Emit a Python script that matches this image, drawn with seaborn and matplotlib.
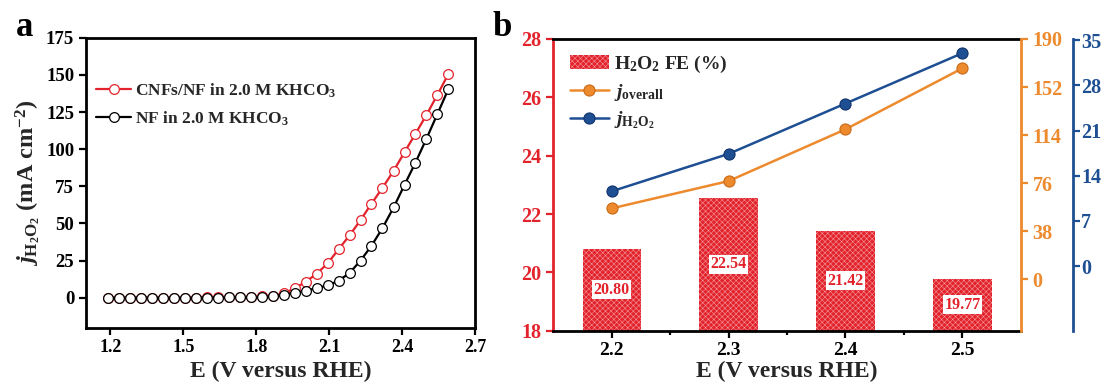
import numpy as np
import pandas as pd
import matplotlib
matplotlib.use("Agg")
import matplotlib.pyplot as plt
import seaborn as sns

# ---------------- data ----------------
# panel a: LSV curves
E_a = [1.190, 1.235, 1.280, 1.325, 1.371, 1.416, 1.461, 1.506, 1.551, 1.597,
       1.642, 1.687, 1.732, 1.777, 1.823, 1.868, 1.913, 1.958, 2.003, 2.048,
       2.094, 2.139, 2.184, 2.229, 2.274, 2.319, 2.365, 2.410, 2.455, 2.500,
       2.545, 2.590]
j_cnf = [0.0, 0.0, 0.0, 0.0, 0.0, 0.0, 0.0, 0.1, 0.1, 0.2,
         0.2, 0.3, 0.4, 0.5, 1.0, 1.5, 3.0, 6.3, 10.8, 16.0,
         23.2, 32.7, 42.0, 52.3, 63.3, 73.9, 85.4, 98.0, 110.4, 123.0,
         136.5, 150.5]
j_nf = [0.0, 0.0, 0.0, 0.0, 0.0, 0.0, 0.0, 0.0, 0.0, 0.1,
        0.1, 0.2, 0.2, 0.3, 0.5, 1.0, 2.0, 3.4, 4.7, 6.5,
        8.3, 11.5, 16.7, 25.0, 35.0, 46.8, 60.8, 76.0, 91.0, 107.0,
        123.6, 140.3]
label_cnf = r"CNFs/NF in 2.0 M KHCO$_3$"
label_nf = r"NF in 2.0 M KHCO$_3$"

# panel b
E_b = [2.2, 2.3, 2.4, 2.5]
FE = [20.80, 22.54, 21.42, 19.77]
j_overall = [56.1, 77.7, 118.6, 166.8]
j_h2o2 = [11.6, 17.4, 25.2, 33.0]

xticks_a = [1.2, 1.5, 1.8, 2.1, 2.4, 2.7]
yticks_a = [0, 25, 50, 75, 100, 125, 150, 175]
yticks_fe = [18, 20, 22, 24, 26, 28]
yticks_ov = [0, 38, 76, 114, 152, 190]
yticks_h = [0, 7, 14, 21, 28, 35]

# ---------------- style ----------------
sns.set_theme(style="ticks")
plt.rcParams["font.family"] = ["Liberation Serif", "DejaVu Serif"]
plt.rcParams["font.weight"] = "bold"
plt.rcParams["axes.labelweight"] = "bold"
plt.rcParams["mathtext.fontset"] = "custom"
plt.rcParams["mathtext.rm"] = "Liberation Serif:bold"
plt.rcParams["mathtext.bf"] = "Liberation Serif:bold"
plt.rcParams["mathtext.it"] = "Liberation Serif:italic:bold"
plt.rcParams["hatch.linewidth"] = 0.35

RED = "#e3232c"
ORANGE = "#ee8a2e"
BLUE = "#1e4f93"

fig = plt.figure(figsize=(11.04, 3.88), dpi=100)
axa = fig.add_axes([0.0779, 0.1559, 0.3524, 0.7469])
axb = fig.add_axes([0.5012, 0.1477, 0.4234, 0.7518])

# ---------------- panel a ----------------
sns.lineplot(x=E_a, y=j_cnf, ax=axa, color=RED, linewidth=1.6, marker="o",
             markersize=7, markerfacecolor="white", markeredgecolor=RED,
             markeredgewidth=0.9, label=label_cnf, sort=False)
sns.lineplot(x=E_a, y=j_nf, ax=axa, color="black", linewidth=1.6, marker="o",
             markersize=7, markerfacecolor="white", markeredgecolor="black",
             markeredgewidth=0.9, label=label_nf, sort=False)
axa.set_xlim(1.1, 2.7)
axa.set_ylim(-20, 175)
axa.set_xticks(xticks_a)
axa.set_xticklabels([f"{v:.1f}" for v in xticks_a])
axa.set_yticks(yticks_a)
for s in axa.spines.values():
    s.set_linewidth(2)
    s.set_color("black")
axa.tick_params(direction="out", length=5, width=1.6, colors="black")
axa.tick_params(axis="x", labelsize=13)
axa.tick_params(axis="y", labelsize=13.5)
axa.set_xlabel("E (V versus RHE)", fontsize=17, labelpad=3)
axa.set_ylabel(r"$j_{\mathregular{H_2O_2}}$ (mA cm$^{-2}$)", fontsize=17.5, labelpad=3)
leg = axa.legend(loc="upper left", bbox_to_anchor=(0.0, 0.886), frameon=False,
                 fontsize=12.5, handlelength=2.0, handletextpad=0.2,
                 labelspacing=0.55, borderaxespad=0.2)

# ---------------- panel b ----------------
sns.barplot(x=E_b, y=FE, ax=axb, native_scale=True, width=0.5, color=RED,
            saturation=1, edgecolor="#f5a3a8", linewidth=0, hatch="xxxxxx",
            label=r"H$_2$O$_2$ FE (%)", zorder=2)
axb.set_xlim(2.15, 2.55)
axb.set_ylim(18, 28)
axb.set_xticks(E_b)
axb.set_xticklabels([f"{v:.1f}" for v in E_b])
axb.set_xticks([2.25, 2.35, 2.45], minor=True)
axb.set_yticks(yticks_fe)
axb.set_xlabel("E (V versus RHE)", fontsize=17, labelpad=1)
axb.set_ylabel("")
for v, x in zip(FE, E_b):
    axb.text(x, (v + 18) / 2, f"{v:.2f}", ha="center", va="center",
             fontsize=11.5, color=RED, fontweight="bold",
             bbox=dict(facecolor="white", edgecolor="none", pad=1.0))
for name in ["top", "bottom"]:
    axb.spines[name].set_color("black")
    axb.spines[name].set_linewidth(2)
axb.spines["left"].set_color(RED)
axb.spines["left"].set_linewidth(2)
axb.spines["right"].set_visible(False)
axb.tick_params(axis="x", which="both", direction="out", width=1.6, colors="black",
                labelsize=14)
axb.tick_params(axis="x", which="major", length=5)
axb.tick_params(axis="x", which="minor", length=3)
axb.tick_params(axis="y", direction="out", length=5, width=1.6, colors=RED,
                labelsize=14.5)
if axb.get_legend():
    axb.get_legend().remove()

ax2 = axb.twinx()
sns.lineplot(x=E_b, y=j_overall, ax=ax2, color=ORANGE, linewidth=1.8, marker="o",
             markersize=8, markerfacecolor=ORANGE, markeredgecolor="#c96a16",
             markeredgewidth=0.8, label=r"$j_{\mathregular{overall}}$")
ax2.set_ylim(-40.6, 190)
ax2.set_yticks(yticks_ov)
for name in ["left", "top", "bottom"]:
    ax2.spines[name].set_visible(False)
ax2.spines["right"].set_color(ORANGE)
ax2.spines["right"].set_linewidth(2)
ax2.tick_params(axis="y", direction="out", length=5, width=1.6, colors=ORANGE,
                labelsize=14.5)
ax2.set_ylabel("")
if ax2.get_legend():
    ax2.get_legend().remove()

ax3 = axb.twinx()
sns.lineplot(x=E_b, y=j_h2o2, ax=ax3, color=BLUE, linewidth=1.8, marker="o",
             markersize=8, markerfacecolor=BLUE, markeredgecolor="#12336a",
             markeredgewidth=0.8, label=r"$j_{\mathregular{H_2O_2}}$")
ax3.set_ylim(-10, 35.2)
ax3.set_yticks(yticks_h)
for name in ["left", "top", "bottom"]:
    ax3.spines[name].set_visible(False)
ax3.spines["right"].set_position(("outward", 37.4))
ax3.spines["right"].set_color(BLUE)
ax3.spines["right"].set_linewidth(2)
ax3.tick_params(axis="y", direction="out", length=5, width=1.6, colors=BLUE,
                labelsize=14.5, pad=1)
ax3.set_ylabel("")
if ax3.get_legend():
    ax3.get_legend().remove()

h1, l1 = axb.get_legend_handles_labels()
h2, l2 = ax2.get_legend_handles_labels()
h3, l3 = ax3.get_legend_handles_labels()
ax3.legend(h1 + h2 + h3, l1 + l2 + l3, loc="upper left", bbox_to_anchor=(0.01, 0.99),
           frameon=False, fontsize=14, handlelength=2.0, handletextpad=0.3,
           labelspacing=0.35, borderaxespad=0.2)

# panel labels
fig.text(0.014, 0.907, "a", fontsize=25, fontweight="bold", color="black")
fig.text(0.446, 0.907, "b", fontsize=25, fontweight="bold", color="black")

fig.savefig("out.png", dpi=100)
